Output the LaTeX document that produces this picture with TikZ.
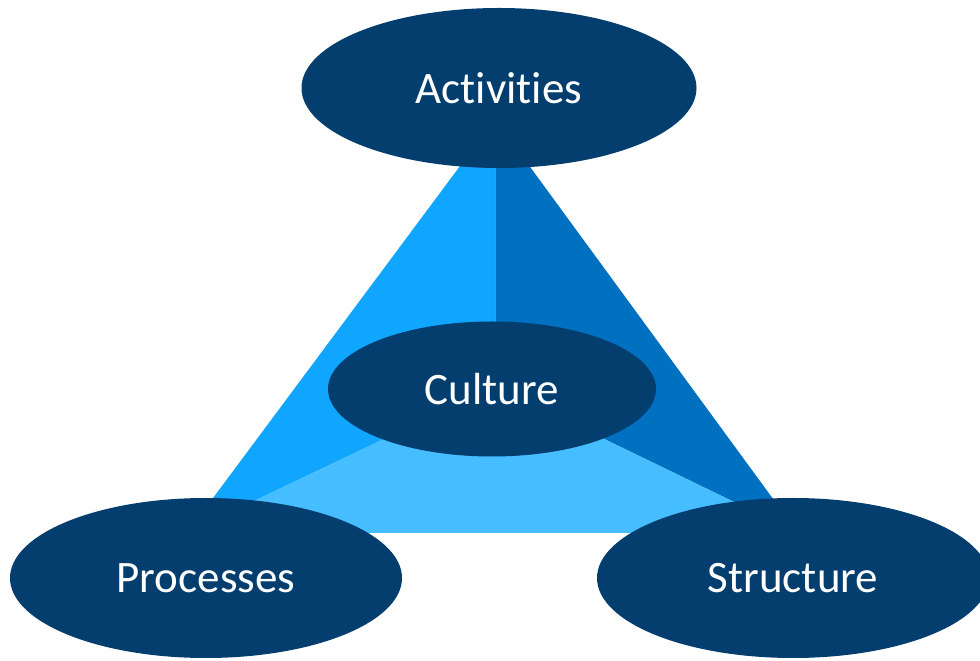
\documentclass[tikz,border=0pt]{standalone}
\usepackage{fontspec}
\setmainfont{Carlito}[Ligatures={NoCommon}]
\usetikzlibrary{positioning,shapes.geometric}
\definecolor{ovalfill}{HTML}{033E6F}
\definecolor{leftface}{HTML}{10A5FF}
\definecolor{rightface}{HTML}{0070C0}
\definecolor{baseface}{HTML}{45BDFF}
\definecolor{seamclr}{HTML}{3C9BE0}
\tikzset{
  oval/.style = {ellipse, fill=ovalfill, text=white, inner sep=0pt,
                 minimum width=392pt, minimum height=160pt,
                 font=\fontsize{45}{54}\selectfont},
  face/.style = {draw=none},
}
\begin{document}
\begin{tikzpicture}[x=1pt, y=1pt]
\useasboundingbox (0,0) rectangle (980,661);
\clip (0,0) rectangle (980,661);

%% pyramid corners
\coordinate (apex)  at (495,542);
\coordinate (mid)   at (495,275);
\coordinate (left)  at (187,128);
\coordinate (right) at (798,128);

%% faces
\fill[face, leftface]  (apex) -- (mid) -- (left) -- cycle;
\fill[face, rightface] (apex) -- (mid) -- (right) -- cycle;
\fill[face, baseface]  (left) -- (mid) -- (right) -- cycle;
\draw[seamclr, line width=0.8pt] (apex) -- (mid);

%% ovals
\node[oval, minimum width=395pt] (act) at (499,573) {Activities};
\node[oval, minimum width=328pt, minimum height=135pt] (cult) at (492,272) {Culture};
\node[oval] (proc) at (206,83) {Processes};
\node[oval] (struct) at (793,83) {Structure};

\end{tikzpicture}
\end{document}
